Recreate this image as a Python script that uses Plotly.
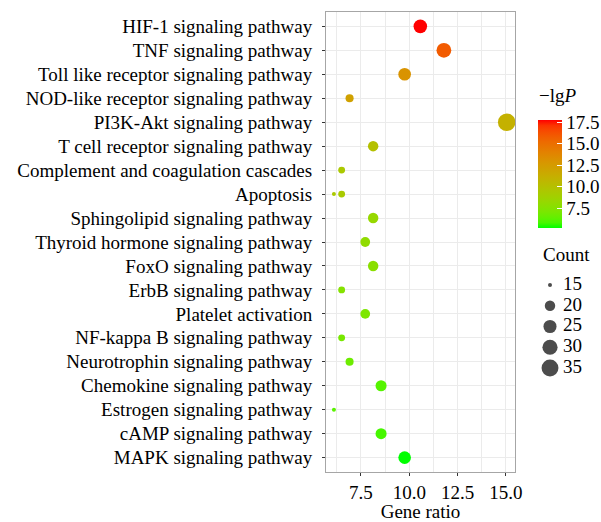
import numpy as np
import plotly.graph_objects as go

# ---------------- data ----------------
categories = [
    "HIF-1 signaling pathway",
    "TNF signaling pathway",
    "Toll like receptor signaling pathway",
    "NOD-like receptor signaling pathway",
    "PI3K-Akt signaling pathway",
    "T cell receptor signaling pathway",
    "Complement and coagulation cascades",
    "Apoptosis",
    "Sphingolipid signaling pathway",
    "Thyroid hormone signaling pathway",
    "FoxO signaling pathway",
    "ErbB signaling pathway",
    "Platelet activation",
    "NF-kappa B signaling pathway",
    "Neurotrophin signaling pathway",
    "Chemokine signaling pathway",
    "Estrogen signaling pathway",
    "cAMP signaling pathway",
    "MAPK signaling pathway",
]

point_pathway = [
    "HIF-1 signaling pathway",
    "TNF signaling pathway",
    "Toll like receptor signaling pathway",
    "NOD-like receptor signaling pathway",
    "PI3K-Akt signaling pathway",
    "T cell receptor signaling pathway",
    "Complement and coagulation cascades",
    "Apoptosis",
    "Apoptosis",
    "Sphingolipid signaling pathway",
    "Thyroid hormone signaling pathway",
    "FoxO signaling pathway",
    "ErbB signaling pathway",
    "Platelet activation",
    "NF-kappa B signaling pathway",
    "Neurotrophin signaling pathway",
    "Chemokine signaling pathway",
    "Estrogen signaling pathway",
    "cAMP signaling pathway",
    "MAPK signaling pathway",
]
gene_ratio = [10.57, 11.79, 9.76, 6.91, 15.04, 8.13, 6.50, 6.10, 6.50, 8.13,
              7.72, 8.13, 6.50, 7.72, 6.50, 6.91, 8.54, 6.10, 8.54, 9.76]
neg_lg_p = [17.77, 15.9, 13.0, 12.1, 11.1, 10.0, 9.4, 9.4, 9.3, 8.3,
            8.0, 7.7, 7.5, 7.2, 7.0, 6.7, 6.1, 6.2, 5.8, 5.2]
count = [26, 29, 24, 17, 37, 20, 16, 15, 16, 20,
         19, 20, 16, 19, 16, 17, 21, 15, 21, 24]

colorbar_ticks = [7.5, 10.0, 12.5, 15.0, 17.5]
legend_counts = [15, 20, 25, 30, 35]
x_title = "Gene ratio"
color_title = "\u2212lg<i>P</i>"
size_title = "Count"

FONT = "Liberation Serif, Times New Roman, serif"
FS = 19

# ---------------- colour scale (Lab interpolation green -> red) ----------------
def _lin(c):
    c = c / 255.0
    return c / 12.92 if c <= 0.04045 else ((c + 0.055) / 1.055) ** 2.4

def _delin(c):
    c = 12.92 * c if c <= 0.0031308 else 1.055 * c ** (1 / 2.4) - 0.055
    return int(round(min(max(c, 0), 1) * 255))

WX, WY, WZ = 0.95047, 1.0, 1.08883

def rgb2lab(rgb):
    r, g, b = [_lin(v) for v in rgb]
    X = 0.4124 * r + 0.3576 * g + 0.1805 * b
    Y = 0.2126 * r + 0.7152 * g + 0.0722 * b
    Z = 0.0193 * r + 0.1192 * g + 0.9505 * b
    def f(t):
        return t ** (1 / 3) if t > (6 / 29) ** 3 else t / (3 * (6 / 29) ** 2) + 4 / 29
    fx, fy, fz = f(X / WX), f(Y / WY), f(Z / WZ)
    return (116 * fy - 16, 500 * (fx - fy), 200 * (fy - fz))

def lab2rgb(lab):
    L, a, b = lab
    fy = (L + 16) / 116
    fx = fy + a / 500
    fz = fy - b / 200
    def fi(t):
        return t ** 3 if t > 6 / 29 else 3 * (6 / 29) ** 2 * (t - 4 / 29)
    X, Y, Z = WX * fi(fx), WY * fi(fy), WZ * fi(fz)
    r = 3.2406 * X - 1.5372 * Y - 0.4986 * Z
    g = -0.9689 * X + 1.8758 * Y + 0.0415 * Z
    bb = 0.0557 * X - 0.2040 * Y + 1.0570 * Z
    return "rgb(%d,%d,%d)" % (_delin(r), _delin(g), _delin(bb))

low = rgb2lab((0, 255, 0))
high = rgb2lab((255, 0, 0))
colorscale = []
for t in np.linspace(0, 1, 21):
    lab = tuple(low[i] + (high[i] - low[i]) * t for i in range(3))
    colorscale.append([float(t), lab2rgb(lab)])

# ---------------- size scale (area) ----------------
cnt_min, cnt_max = min(count), max(count)
def size_px(c):
    c = np.asarray(c, dtype=float)
    return 4.0 + 13.5 * np.sqrt(np.clip((c - cnt_min) / (cnt_max - cnt_min), 0, 1))

# ---------------- geometry ----------------
W, H = 601, 522
ML, MR, MT, MB = 326, 0, 12, 50
PW = W - ML - MR
PH = H - MT - MB
panel_right = 515

def px_x(p):
    return (p - ML) / PW

def px_y(p):
    return (H - MB - p) / PH

fig = go.Figure()

fig.add_trace(go.Scatter(
    x=gene_ratio, y=point_pathway, mode="markers",
    marker=dict(
        size=size_px(count), color=neg_lg_p, colorscale=colorscale,
        cmin=min(neg_lg_p), cmax=max(neg_lg_p), line=dict(width=0), opacity=1,
        colorbar=dict(
            x=px_x(538), xanchor="left", xpad=0,
            y=px_y(228), yanchor="bottom", ypad=0,
            thickness=24, len=108, lenmode="pixels",
            outlinewidth=0,
            tickvals=colorbar_ticks, ticktext=["%.1f" % v for v in colorbar_ticks],
            ticks="inside", tickcolor="white", ticklen=5, tickwidth=1,
            tickfont=dict(family=FONT, size=FS, color="black"),
        ),
    ),
    showlegend=False, hoverinfo="skip",
))

# colour legend title
fig.add_annotation(
    text=color_title, x=px_x(537), y=px_y(96), xref="paper", yref="paper",
    xanchor="left", yanchor="middle", showarrow=False,
    font=dict(family=FONT, size=FS, color="black"),
)

# size legend drawn on its own small axes
fig.add_trace(go.Scatter(
    x=[10] * len(legend_counts), y=list(range(len(legend_counts))),
    mode="markers", marker=dict(size=size_px(legend_counts), color="black", line=dict(width=0)),
    xaxis="x2", yaxis="y2", showlegend=False, hoverinfo="skip",
))
fig.add_trace(go.Scatter(
    x=[23] * len(legend_counts), y=list(range(len(legend_counts))),
    mode="text", text=[str(v) for v in legend_counts], textposition="middle right",
    textfont=dict(family=FONT, size=FS, color="black"),
    xaxis="x2", yaxis="y2", showlegend=False, hoverinfo="skip",
))

fig.add_annotation(
    text=size_title, x=px_x(541), y=px_y(255), xref="paper", yref="paper",
    xanchor="left", yanchor="middle", showarrow=False,
    font=dict(family=FONT, size=FS, color="black"),
)

grid = "#EBEBEB"
border = "#A6A6A6"
fig.update_layout(
    width=W, height=H,
    margin=dict(l=ML, r=MR, t=MT, b=MB, pad=0, autoexpand=False),
    paper_bgcolor="white", plot_bgcolor="white",
    font=dict(family=FONT, size=FS, color="black"),
    xaxis=dict(
        domain=[0, px_x(panel_right)], range=[5.69, 15.47],
        tickmode="linear", tick0=0, dtick=2.5, tickformat=".1f",
        showgrid=True, gridcolor=grid, gridwidth=1,
        minor=dict(tick0=0, dtick=1.25, showgrid=True, gridcolor=grid, gridwidth=1),
        ticks="outside", ticklen=3, tickcolor="#333333",
        showline=True, linecolor=border, linewidth=1, mirror=True, zeroline=False,
        tickfont=dict(family=FONT, size=FS, color="black"),
        title=dict(text=x_title, standoff=3, font=dict(family=FONT, size=FS, color="black")),
    ),
    yaxis=dict(
        type="category", categoryorder="array", categoryarray=categories,
        range=[len(categories) - 1 + 0.6, -0.6],
        showgrid=True, gridcolor=grid, gridwidth=1,
        ticks="outside", ticklen=3, tickcolor="#333333", ticklabelstandoff=6,
        showline=True, linecolor=border, linewidth=1, mirror=True, zeroline=False,
        tickfont=dict(family=FONT, size=FS, color="black"),
    ),
    xaxis2=dict(domain=[px_x(540), 1], range=[0, 61], visible=False, anchor="y2", fixedrange=True),
    yaxis2=dict(domain=[px_y(380), px_y(275)], range=[4.578, -0.482], visible=False,
                anchor="x2", fixedrange=True),
)

fig.write_html("out.html")
